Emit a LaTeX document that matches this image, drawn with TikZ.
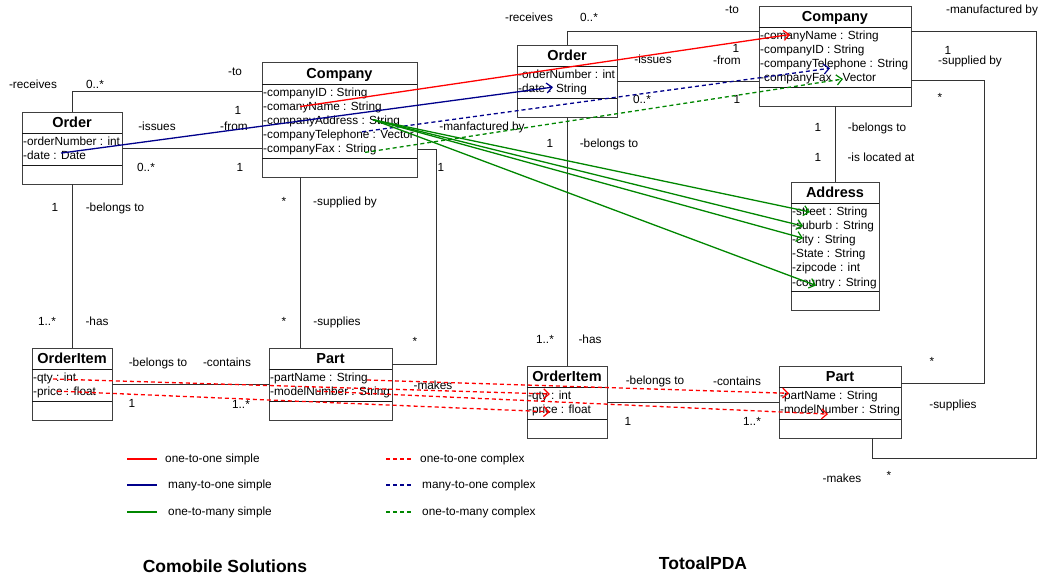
\documentclass[tikz,border=0pt]{standalone}
\usepackage{fontspec}
\setmainfont{Liberation Sans}
\usetikzlibrary{arrows.meta,calc}

\definecolor{mapred}{RGB}{255,0,0}
\definecolor{mapblue}{RGB}{0,0,140}
\definecolor{mapgreen}{RGB}{0,135,0}

\tikzset{
  classbox/.style={draw=black!75, line width=0.9pt, inner sep=0pt, outer sep=0pt},
  classline/.style={draw=black!90, line width=0.9pt},
  classtitle/.style={inner sep=0pt, font=\fontsize{14.5}{16}\selectfont\bfseries, text height=10.4pt, text depth=0pt},
  attrtext/.style={anchor=west, inner sep=0pt, font=\fontsize{11.8}{14}\selectfont, text height=8pt, text depth=1pt},
  lbl/.style={inner sep=0pt, font=\fontsize{11.8}{14}\selectfont, text height=8pt, text depth=1pt},
  assoc/.style={draw=black!80, line width=0.9pt},
  map/.style={line width=1.3pt, -{Straight Barb[length=5.5pt,width=10pt,line width=1.2pt]}},
  cplx/.style={dash pattern=on 4pt off 3pt},
  heading/.style={inner sep=0pt, font=\fontsize{17.5}{20}\selectfont\bfseries},
}

% UML class: name, left, top, width, title, number of attributes
\newcommand\umlclass[6]{%
  \pgfmathsetmacro\clsSep{25+14.1*#6}%
  \pgfmathsetmacro\clsH{\clsSep+19}%
  \node[classbox, minimum width=#4pt, minimum height=\clsH pt, anchor=north west] (#1) at (#2,#3) {};
  \draw[classline] ([yshift=-21.5pt]#1.north west) -- ([yshift=-21.5pt]#1.north east);
  \draw[classline] ([yshift=-\clsSep pt]#1.north west) -- ([yshift=-\clsSep pt]#1.north east);
  \node[classtitle] (#1-title) at ([yshift=-10.75pt]#1.north) {#5};
}
% attribute rows of a class: class name, list of node/text
\newcommand\umlattrs[2]{%
  \foreach \an/\at [count=\ai from 0] in {#2} {
    \node[attrtext] (\an) at ($(#1.north west)+(1,{30+14.1*\ai})$) {\at};
  }
}

\begin{document}
\begin{tikzpicture}[x=1pt,y=-1pt]
\useasboundingbox (0,0) rectangle (1040,579);
\fill[white] (0,0) rectangle (1040,579);

% ---------------- Comobile Solutions ----------------
\umlclass{lo}{22}{112}{100}{Order}{2}
\umlattrs{lo}{loNum/{-orderNumber : int}, loDate/{-date : Date}}

\umlclass{lc}{262}{62.5}{155}{Company}{5}
\umlattrs{lc}{lcID/{-companyID : String}, lcName/{-comanyName : String}, lcAddr/{-companyAddress : String}, lcTel/{-companyTelephone : Vector}, lcFax/{-companyFax : String}}

\umlclass{loi}{32}{348}{80}{OrderItem}{2}
\umlattrs{loi}{loiQty/{-qty : int}, loiPrice/{-price : float}}

\umlclass{lp}{269}{348}{123}{Part}{2}
\umlattrs{lp}{lpName/{-partName : String}, lpModel/{-modelNumber : String}}

% ---------------- TotoalPDA ----------------
\umlclass{ro}{517}{45}{100}{Order}{2}
\umlattrs{ro}{roNum/{-orderNumber : int}, roDate/{-date : String}}

\umlclass{rc}{759}{6}{152}{Company}{4}
\umlattrs{rc}{rcName/{-comanyName : String}, rcID/{-companyID : String}, rcTel/{-companyTelephone : String}, rcFax/{-companyFax : Vector}}

\umlclass{ad}{791}{182}{88}{Address}{6}
\umlattrs{ad}{adStreet/{-street : String}, adSuburb/{-suburb : String}, adCity/{-city : String}, adState/{-State : String}, adZip/{-zipcode : int}, adCountry/{-country : String}}

\umlclass{roi}{527}{366}{80}{OrderItem}{2}
\umlattrs{roi}{roiQty/{-qty : int}, roiPrice/{-price : float}}

\umlclass{rp}{779}{366}{122}{Part}{2}
\umlattrs{rp}{rpName/{-partName : String}, rpModel/{-modelNumber : String}}

% ---------------- associations, left model ----------------
\draw[assoc] (lo.north) |- ([yshift=-29pt]lc.north west);
\draw[assoc] (lo.east) -- (lo.east -| lc.west);
\draw[assoc] (lo.south) -- (loi.north);
\coordinate (lcSup) at ([xshift=38pt]lc.south west);
\draw[assoc] (lcSup) -- (lcSup |- lp.north);
\draw[assoc] ([yshift=-86.5pt]lc.north east) -- ++(19.5,0) |- ([yshift=-16.5pt]lp.north east);
\draw[assoc] (loi.east) -- (lp.west);

\node[lbl] (t1) at (33,85) {-receives};
\node[lbl] (t2) at (95,85) {0..*};
\node[lbl] (t3) at (235,72) {-to};
\node[lbl] (t4) at (238,111) {1};
\node[lbl] (t5) at (157,127) {-issues};
\node[lbl] (t6) at (234,127) {-from};
\node[lbl] (t7) at (146,168) {0..*};
\node[lbl] (t8) at (240,168) {1};
\node[lbl] (t9) at (55,208) {1};
\node[lbl] (t10) at (115,208) {-belongs to};
\node[lbl] (t11) at (47,322) {1..*};
\node[lbl] (t12) at (97,322) {-has};
\node[lbl] (t13) at (284,202) {*};
\node[lbl] (t14) at (345,202) {-supplied by};
\node[lbl] (t15) at (284,322) {*};
\node[lbl] (t16) at (337,322) {-supplies};
\node[lbl] (t17) at (441,168) {1};
\node[lbl] (t18) at (415,342) {*};
\node[lbl] (t19) at (433,386) {-makes};
\node[lbl] (t20) at (482,127) {-manfactured by};
\node[lbl] (t21) at (158,363) {-belongs to};
\node[lbl] (t22) at (227,363) {-contains};
\node[lbl] (t23) at (132,404) {1};
\node[lbl] (t24) at (241,405) {1..*};

% ---------------- associations, right model ----------------
\draw[assoc] (ro.north) |- ([yshift=-25pt]rc.north west);
\draw[assoc] (ro.east) -- (ro.east -| rc.west);
\draw[assoc] (ro.south) -- (roi.north);
\draw[assoc] (rc.south) -- (ad.north);
\draw[assoc] ([yshift=-74.7pt]rc.north east) -- ++(73,0) |- ([yshift=-17pt]rp.north east);
\draw[assoc] ([yshift=-25.5pt]rc.north east) -- ++(125.5,0) -- ++(0,426.5) -| ([xshift=93pt]rp.south west);
\draw[assoc] (roi.east) -- (rp.west);

\node[lbl] (u1) at (529,18) {-receives};
\node[lbl] (u2) at (589,18) {0..*};
\node[lbl] (u3) at (732,10) {-to};
\node[lbl] (u4) at (736,49) {1};
\node[lbl] (u5) at (653,60) {-issues};
\node[lbl] (u6) at (727,61) {-from};
\node[lbl] (u7) at (642,100) {0..*};
\node[lbl] (u8) at (737,100) {1};
\node[lbl] (u9) at (550,144) {1};
\node[lbl] (u10) at (609,144) {-belongs to};
\node[lbl] (u11) at (545,340) {1..*};
\node[lbl] (u12) at (590,340) {-has};
\node[lbl] (u13) at (818,128) {1};
\node[lbl] (u14) at (877,128) {-belongs to};
\node[lbl] (u15) at (818,158) {1};
\node[lbl] (u16) at (881,158) {-is located at};
\node[lbl] (u17) at (992,10) {-manufactured by};
\node[lbl] (u18) at (948,51) {1};
\node[lbl] (u19) at (970,61) {-supplied by};
\node[lbl] (u20) at (940,98) {*};
\node[lbl] (u21) at (932,362) {*};
\node[lbl] (u22) at (953,405) {-supplies};
\node[lbl] (u23) at (842,479) {-makes};
\node[lbl] (u24) at (889,476) {*};
\node[lbl] (u25) at (655,381) {-belongs to};
\node[lbl] (u26) at (737,382) {-contains};
\node[lbl] (u27) at (628,422) {1};
\node[lbl] (u28) at (752,422) {1..*};

% ---------------- attribute mappings ----------------
\draw[map, mapred] ([xshift=37pt]lcName.west) -- ([xshift=30pt,yshift=1.5pt]rcName.west);
\draw[map, mapblue] ([xshift=38pt,yshift=3pt]loDate.west) -- ([xshift=35pt,yshift=2pt]roDate.west);
\draw[map, mapblue, cplx] ([xshift=99pt,yshift=3pt]lcTel.west) -- ([xshift=70pt,yshift=-4pt]rcTel.west);
\draw[map, mapgreen, cplx] ([xshift=102pt,yshift=-3.5pt]lcFax.west) -- ([xshift=83pt,yshift=-0.7pt]rcFax.west);

\coordinate (lcAddrOut) at ([xshift=110pt,yshift=1pt]lcAddr.west);
\draw[map, mapgreen] (lcAddrOut) -- ([xshift=18pt]adStreet.west);
\draw[map, mapgreen] (lcAddrOut) -- ([xshift=11pt]adSuburb.west);
\draw[map, mapgreen] (lcAddrOut) -- ([xshift=11pt,yshift=2pt]adCity.west);
\draw[map, mapgreen] (lcAddrOut) -- ([xshift=24pt,yshift=-3pt]adCountry.west);

\draw[map, mapred, cplx] ([xshift=20pt,yshift=-1pt]loiQty.west) -- ([xshift=22pt,yshift=2pt]roiQty.west);
\draw[map, mapred, cplx] ([xshift=24pt,yshift=1pt]loiPrice.west) -- ([xshift=22pt,yshift=-1.7pt]roiPrice.west);
\draw[map, mapred, cplx] ([xshift=97pt,yshift=-2pt]lpName.west) -- ([xshift=9pt,yshift=2.7pt]rpName.west);
\draw[map, mapred, cplx] ([xshift=47pt,yshift=1pt]lpModel.west) -- ([xshift=48pt,yshift=-4pt]rpModel.west);

% ---------------- legend ----------------
\draw[line width=1.3pt, mapred] (127,459) -- (157,459);
\draw[line width=1.3pt, mapblue] (127,485) -- (157,485);
\draw[line width=1.3pt, mapgreen] (127,512) -- (157,512);
\node[lbl, anchor=west] (k1) at (165,459) {one-to-one simple};
\node[lbl, anchor=west] (k2) at (168,485) {many-to-one simple};
\node[lbl, anchor=west] (k3) at (168,512) {one-to-many simple};
\draw[line width=1.3pt, mapred, cplx] (386,459) -- (412,459);
\draw[line width=1.3pt, mapblue, cplx] (386,485) -- (412,485);
\draw[line width=1.3pt, mapgreen, cplx] (386,512) -- (412,512);
\node[lbl, anchor=west] (k4) at (420,459) {one-to-one complex};
\node[lbl, anchor=west] (k5) at (422,485) {many-to-one complex};
\node[lbl, anchor=west] (k6) at (422,512) {one-to-many complex};

\node[heading] (h1) at (225,566.5) {Comobile Solutions};
\node[heading] (h2) at (703,563.5) {TotoalPDA};
\end{tikzpicture}
\end{document}
